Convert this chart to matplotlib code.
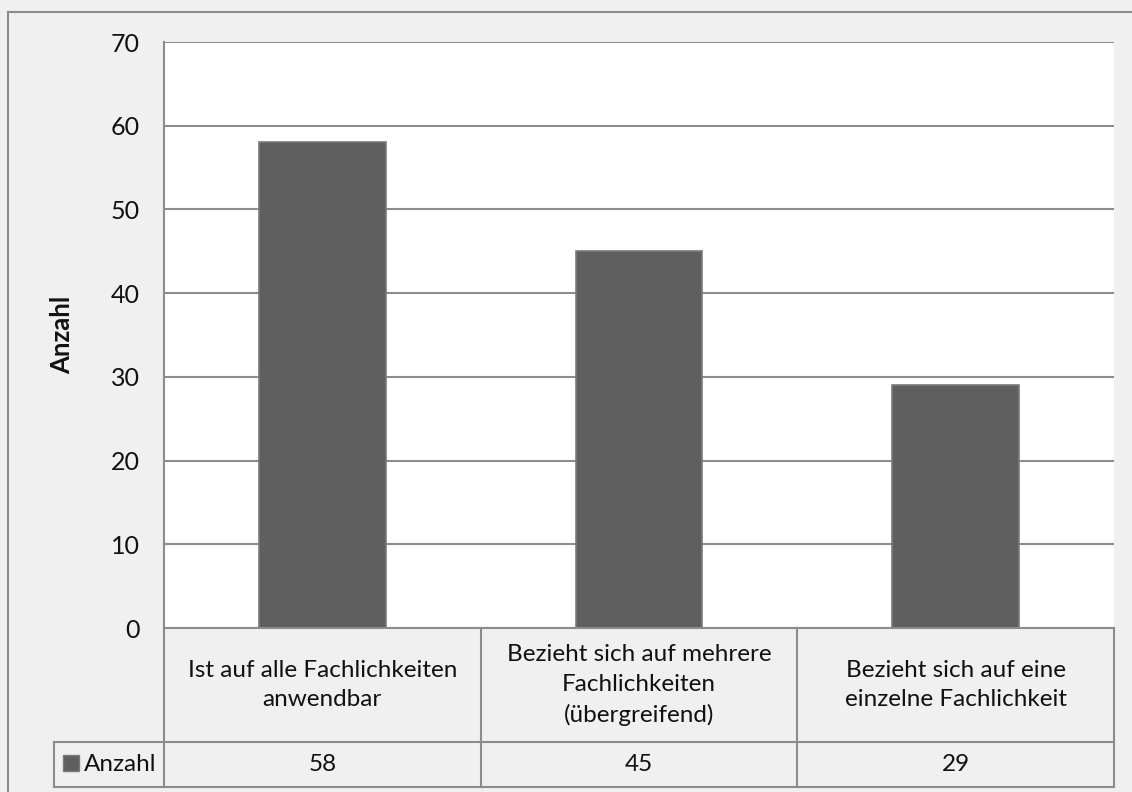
import matplotlib
matplotlib.use("Agg")
import matplotlib.pyplot as plt
from matplotlib.lines import Line2D
from matplotlib.patches import Rectangle

categories = [
    "Ist auf alle Fachlichkeiten\nanwendbar",
    "Bezieht sich auf mehrere\nFachlichkeiten\n(übergreifend)",
    "Bezieht sich auf eine\neinzelne Fachlichkeit",
]
values = [58, 45, 29]
series_name = "Anzahl"
y_ticks = [0, 10, 20, 30, 40, 50, 60, 70]

plt.rcParams["font.family"] = ["Lato", "DejaVu Sans"]

W, H = 1132, 792
fig = plt.figure(figsize=(W / 100, H / 100), dpi=100, facecolor="#F0F0F0")


def fx(px):
    return px / W


def fy(py):
    return 1 - py / H


left, right, top, bottom = 164, 1114, 42, 628
ax = fig.add_axes([fx(left), fy(bottom), fx(right - left), (bottom - top) / H])
ax.set_facecolor("white")

grid_c = "#8C8C8C"
bar_c = "#5F5F5F"
txt_c = "#111111"
fs = 17.5

x = list(range(len(values)))
ax.bar(x, values, width=0.4, color=bar_c, edgecolor="#7A7A7A", linewidth=1.2, zorder=3)
ax.set_xlim(-0.5, len(values) - 0.5)
ax.set_ylim(0, 70)
ax.set_yticks(y_ticks)
ax.set_yticklabels([str(t) for t in y_ticks], fontsize=18, color=txt_c)
ax.tick_params(axis="y", length=0, pad=17.5)
ax.set_xticks([])
ax.yaxis.grid(True, color=grid_c, linewidth=1.5, zorder=0)
for s in ("top", "right", "bottom"):
    ax.spines[s].set_visible(False)
ax.spines["left"].set_color(grid_c)
ax.spines["left"].set_linewidth(1.5)
ax.set_ylabel(series_name, fontsize=18.5, fontweight="bold", color=txt_c, labelpad=26)

# data table below the plot area (figure pixel coordinates)
row1_bot, row2_bot, legend_left = 742, 787, 54
col_w = (right - left) / len(values)
col_edges = [left + i * col_w for i in range(len(values) + 1)]


def hline(x0, x1, y):
    fig.add_artist(Line2D([fx(x0), fx(x1)], [fy(y), fy(y)], color=grid_c, lw=1.5))


def vline(xp, y0, y1):
    fig.add_artist(Line2D([fx(xp), fx(xp)], [fy(y0), fy(y1)], color=grid_c, lw=1.5))


hline(left, right, bottom)
hline(legend_left, right, row1_bot)
hline(legend_left, right, row2_bot)
for e in col_edges:
    vline(e, bottom, row2_bot)
vline(legend_left, row1_bot, row2_bot)

for i, (cat, val) in enumerate(zip(categories, values)):
    cx = col_edges[i] + col_w / 2
    fig.text(fx(cx), fy((bottom + row1_bot) / 2), cat, ha="center", va="center",
             fontsize=fs, color=txt_c, linespacing=1.5)
    fig.text(fx(cx), fy((row1_bot + row2_bot) / 2), str(val), ha="center", va="center",
             fontsize=fs, color=txt_c)

# legend key inside the table
fig.add_artist(Rectangle((fx(63), fy(771)), fx(16), (771 - 755) / H,
                         facecolor=bar_c, edgecolor="#7A7A7A", lw=1))
fig.text(fx(84), fy((row1_bot + row2_bot) / 2), series_name, ha="left", va="center",
         fontsize=fs, color=txt_c)

# chart area frame
fig.add_artist(Line2D([fx(8), fx(8)], [fy(12), 0], color=grid_c, lw=1.5))
fig.add_artist(Line2D([fx(8), 1], [fy(12), fy(12)], color=grid_c, lw=1.5))

fig.savefig("out.png", dpi=100, facecolor=fig.get_facecolor())
